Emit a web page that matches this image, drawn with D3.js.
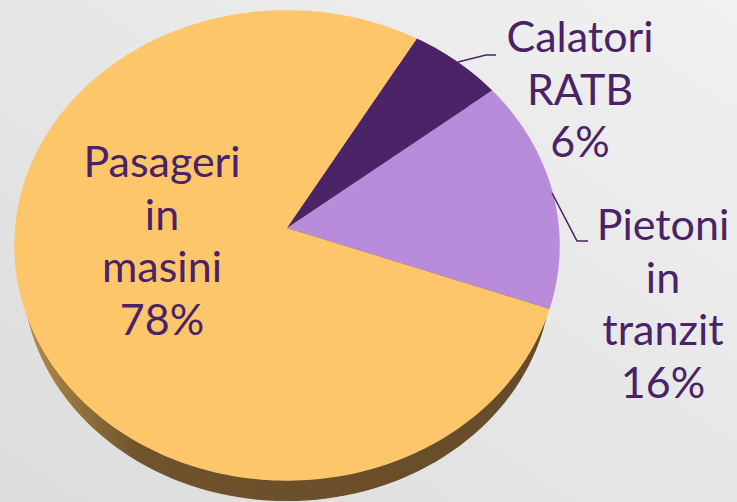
<!DOCTYPE html>
<html>
<head>
<meta charset="utf-8">
<script src="https://cdn.jsdelivr.net/npm/d3@7"></script>
<style>
  html, body { margin: 0; padding: 0; overflow: hidden; }
  svg { display: block; }
</style>
</head>
<body>
<div id="chart"></div>
<script>
// chart data
const categories = ["Calatori RATB", "Pietoni in tranzit", "Pasageri in masini"];
const values = [6, 16, 78];
const labelLines = [["Calatori", "RATB", "6%"], ["Pietoni", "in", "tranzit", "16%"], ["Pasageri", "in", "masini", "78%"]];
const colors = ["#4b2468", "#b98cdb", "#fec66b"];

const width = 737, height = 502;

// tilted disc, apex of the slices and perspective factor
const cx = 287, cy = 228;
const rx = 272, ry = 234;
const k = -0.074;

let svg = d3.select("#chart")
    .append("svg")
    .attr("width", width)
    .attr("height", height);

let defs = svg.append("defs");

let bg = defs.append("linearGradient")
    .attr("id", "bg")
    .attr("x1", "0").attr("y1", "1").attr("x2", "1").attr("y2", "0");
bg.append("stop").attr("offset", "0%").attr("stop-color", "#dcdcdc");
bg.append("stop").attr("offset", "100%").attr("stop-color", "#f1f1f1");

let side = defs.append("linearGradient")
    .attr("id", "side")
    .attr("x1", "0").attr("y1", "0").attr("x2", "1").attr("y2", "0");
side.append("stop").attr("offset", "0%").attr("stop-color", "#b68d4c");
side.append("stop").attr("offset", "22%").attr("stop-color", "#6f532d");
side.append("stop").attr("offset", "100%").attr("stop-color", "#654b28");

svg.append("rect")
    .attr("width", width)
    .attr("height", height)
    .attr("fill", "url(#bg)");

// angle (clockwise from top) -> screen point
function proj(theta, s, dy) {
    let u = Math.sin(theta), v = -Math.cos(theta);
    let d = 1 + k * v;
    return [cx + s * rx * u / d, cy + dy + s * ry * v / d];
}

let line = d3.line();

// bottom face, gives the edge thickness
let ring = d3.range(0, 361, 2).map(function(a) { return proj(a * Math.PI / 180, 0.97, 28); });
svg.append("path")
    .attr("d", line(ring) + "Z")
    .attr("fill", "url(#side)");

let pie = d3.pie()
    .sort(null)
    .value(function(d) { return d; })
    .startAngle(30.5 * Math.PI / 180)
    .endAngle(30.5 * Math.PI / 180 + 2 * Math.PI);

let arcs = pie(values);

svg.selectAll("path.slice")
    .data(arcs)
    .enter()
    .append("path")
    .attr("class", "slice")
    .attr("d", function(d) {
        let n = Math.max(4, Math.ceil((d.endAngle - d.startAngle) / 0.02));
        let pts = [[cx, cy]];
        for (let i = 0; i <= n; i++) {
            pts.push(proj(d.startAngle + (d.endAngle - d.startAngle) * i / n, 1, 0));
        }
        return line(pts) + "Z";
    })
    .attr("fill", function(d, i) { return colors[i]; });

// labels
const labelPos = [[580, 52], [663, 240], [162, 177]];
const lineGap = 52.5;

let labels = svg.selectAll("text.lbl")
    .data(labelLines)
    .enter()
    .append("text")
    .attr("class", "lbl")
    .attr("x", function(d, i) { return labelPos[i][0]; })
    .attr("y", function(d, i) { return labelPos[i][1]; })
    .style("text-anchor", "middle")
    .style("font-family", "Lato, 'Open Sans', sans-serif")
    .style("font-size", "43px")
    .attr("fill", "#4a2266");

labels.selectAll("tspan")
    .data(function(d, i) { return d.map(function(t) { return {t: t, x: labelPos[i][0]}; }); })
    .enter()
    .append("tspan")
    .attr("x", function(d) { return d.x; })
    .attr("dy", function(d, j) { return j === 0 ? 0 : lineGap; })
    .text(function(d) { return d.t; });

// leader lines
const leaders = [[[458, 62], [486, 55], [496, 55]], [[552, 193], [577, 241], [588, 241]]];
svg.selectAll("path.leader")
    .data(leaders)
    .enter()
    .append("path")
    .attr("class", "leader")
    .attr("d", function(d) { return line(d); })
    .attr("fill", "none")
    .attr("stroke", "#4a2266")
    .attr("stroke-width", 1.6);
</script>
</body>
</html>
